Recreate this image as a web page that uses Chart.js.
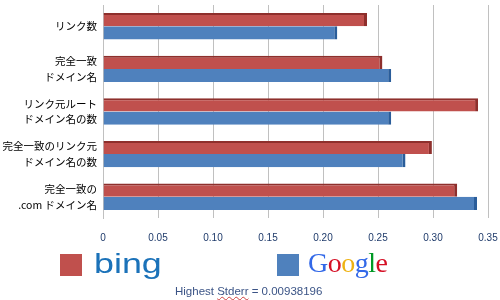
<!DOCTYPE html>
<html>
<head>
<meta charset="utf-8">
<script src="https://cdn.jsdelivr.net/npm/chart.js@4"></script>
<style>
  body { margin: 0; background: #fff; width: 500px; height: 300px; overflow: hidden; position: relative; font-family: "Noto Sans CJK JP", "Liberation Sans", sans-serif; }
  #wrap { position: absolute; left: 0; top: 0; width: 500px; height: 250px; }
  .sq { position: absolute; }
  #bing { position: absolute; left: 94px; top: 250px; font: 28px "Liberation Sans", sans-serif; color: #1B72B9; line-height: 28px; transform: scaleX(1.28); transform-origin: left top; }
  #google { position: absolute; left: 308px; top: 249px; font: 28px "Liberation Serif", serif; letter-spacing: -0.5px; line-height: 28px; }
  #stderr { position: absolute; left: 175px; top: 285px; font: 11.5px "Liberation Sans", sans-serif; color: #3B5486; }
  #stderr u { text-decoration: underline wavy #d04040; text-decoration-thickness: 1px; }
</style>
</head>
<body>
<div id="wrap"><canvas id="chart"></canvas></div>
<div class="sq" style="left:60px;top:254px;width:22px;height:22px;background:#C0504D"></div>
<div id="bing">bing</div>
<div class="sq" style="left:277px;top:254px;width:22px;height:22px;background:#4F81BD"></div>
<div id="google"><span style="color:#3369E8">G</span><span style="color:#D50F25">o</span><span style="color:#EEB211">o</span><span style="color:#3369E8">g</span><span style="color:#009925">l</span><span style="color:#D50F25">e</span></div>
<div id="stderr">Highest <u>Stderr</u> = 0.00938196</div>
<script>
const categories = [
    ["リンク数"],
    ["完全一致", "ドメイン名"],
    ["リンク元ルート", "ドメイン名の数"],
    ["完全一致のリンク元", "ドメイン名の数"],
    ["完全一致の", ".com ドメイン名"]
];
const bingValues = [0.240, 0.254, 0.341, 0.299, 0.322];
const googleValues = [0.213, 0.262, 0.262, 0.275, 0.340];
const xTicks = [0, 0.05, 0.1, 0.15, 0.2, 0.25, 0.3, 0.35];

const ctx = document.getElementById('chart').getContext('2d');
new Chart(ctx, {
    type: 'bar',
    data: {
        labels: categories,
        datasets: [
            {
                label: 'bing',
                data: bingValues,
                backgroundColor: '#C0504D',
                borderColor: '#8E2F2C',
                borderWidth: { top: 2, right: 3, bottom: 0, left: 0 },
                borderSkipped: false
            },
            {
                label: 'Google',
                data: googleValues,
                backgroundColor: '#4F81BD',
                borderColor: '#2A5D9A',
                borderWidth: { top: 0, right: 3, bottom: 0, left: 0 },
                borderSkipped: false
            }
        ]
    },
    options: {
        indexAxis: 'y',
        responsive: true,
        maintainAspectRatio: false,
        animation: false,
        layout: { padding: { top: 5, right: 12, left: 0, bottom: 0 } },
        datasets: { bar: { categoryPercentage: 0.62, barPercentage: 1 } },
        plugins: { legend: { display: false }, tooltip: { enabled: false } },
        scales: {
            x: {
                min: 0,
                max: 0.35,
                afterBuildTicks: s => { s.ticks = xTicks.map(v => ({ value: v })); },
                grid: { color: '#C0C0C0', lineWidth: 1, drawTicks: false },
                border: { display: false },
                afterFit: s => { s.height = 32; s.paddingLeft = 0; s.paddingRight = 0; },
                ticks: {
                    padding: 14,
                    color: '#1F3B6B',
                    font: { family: 'Liberation Sans', size: 10 },
                    maxRotation: 0
                }
            },
            y: {
                grid: { display: false, drawTicks: false },
                border: { display: true, color: '#C0C0C0' },
                afterFit: s => { s.width = 103; s.paddingTop = 0; s.paddingBottom = 0; },
                ticks: {
                    padding: 6,
                    color: '#000',
                    font: { family: 'Noto Sans CJK JP', size: 10.5, lineHeight: 1.5 }
                }
            }
        }
    }
});
</script>
</body>
</html>
